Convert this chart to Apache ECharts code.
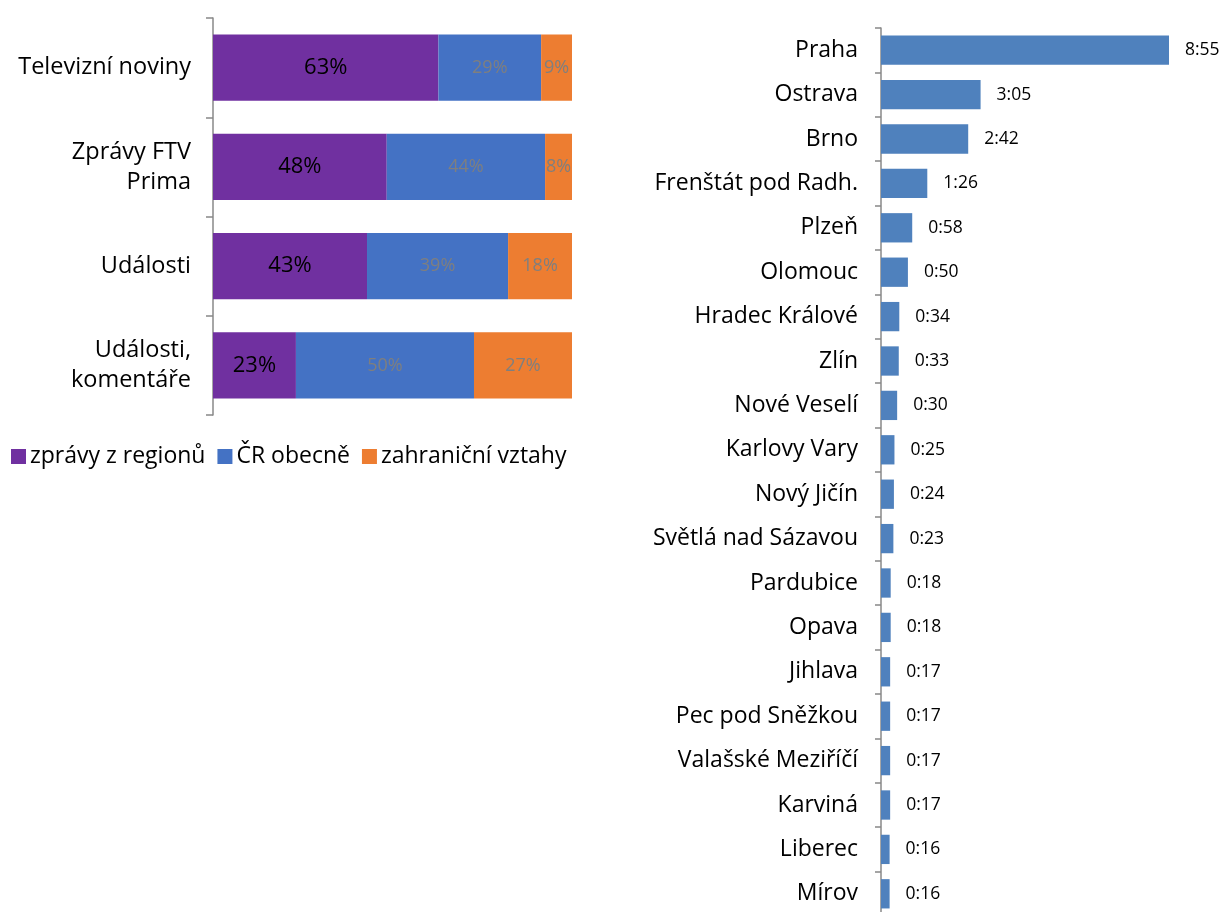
<!DOCTYPE html>
<html>
<head>
<meta charset="utf-8">
<script src="https://cdn.jsdelivr.net/npm/echarts@6/dist/echarts.min.js"></script>
<style>
html,body{margin:0;padding:0;background:#fff;}
#c{width:1224px;height:912px;}
</style>
</head>
<body>
<div id="c"></div>
<script>
// Left chart: share of news topics (percent)
const programs = ['Televizní noviny', 'Zprávy FTV\nPrima', 'Události', 'Události,\nkomentáře'];
const seriesNames = ['zprávy z regionů', 'ČR obecně', 'zahraniční vztahy'];
const regionValues = [62.8, 48.4, 42.9, 23.1];
const generalValues = [28.6, 44.1, 39.3, 49.6];
const foreignValues = [8.6, 7.5, 17.8, 27.3];

// Right chart: airtime per city (m:ss)
const cities = ['Praha', 'Ostrava', 'Brno', 'Frenštát pod Radh.', 'Plzeň', 'Olomouc', 'Hradec Králové', 'Zlín', 'Nové Veselí', 'Karlovy Vary', 'Nový Jičín', 'Světlá nad Sázavou', 'Pardubice', 'Opava', 'Jihlava', 'Pec pod Sněžkou', 'Valašské Meziříčí', 'Karviná', 'Liberec', 'Mírov'];
const cityTimes = ['8:55', '3:05', '2:42', '1:26', '0:58', '0:50', '0:34', '0:33', '0:30', '0:25', '0:24', '0:23', '0:18', '0:18', '0:17', '0:17', '0:17', '0:17', '0:16', '0:16'];

function toSec(t){ const p = t.split(':'); return (+p[0])*60 + (+p[1]); }
function toTime(s){ const m = Math.floor(s/60), r = Math.round(s%60); return m + ':' + (r<10?'0':'') + r; }

const FONT = 'Open Sans';
const chart = echarts.init(document.getElementById('c'));
const colors = ['#7030A0', '#4472C4', '#ED7D31'];
const leftVals = [regionValues, generalValues, foreignValues];

const leftSeries = leftVals.map((vals, i) => ({
  name: seriesNames[i],
  type: 'bar',
  stack: 'total',
  xAxisIndex: 0, yAxisIndex: 0,
  barWidth: '67%',
  data: vals,
  itemStyle: { color: colors[i] },
  label: {
    show: true, position: 'inside',
    formatter: p => Math.round(p.value) + '%',
    fontFamily: FONT,
    fontSize: i === 0 ? 22 : 18,
    color: i === 0 ? '#000' : '#7f7f7f'
  }
}));

const option = {
  animation: false,
  textStyle: { fontFamily: FONT },
  legend: {
    left: 6, top: 440,
    itemWidth: 15, itemHeight: 15, itemGap: 12,
    icon: 'rect',
    textStyle: { fontFamily: FONT, fontSize: 23, color: '#000', padding: [0, 0, 0, -1] },
    data: seriesNames
  },
  grid: [
    { left: 213, top: 18, width: 359, height: 397, outerBoundsMode: 'none', containLabel: false },
    { left: 881, top: 28, width: 323, height: 888, outerBoundsMode: 'none', containLabel: false }
  ],
  xAxis: [
    { gridIndex: 0, type: 'value', min: 0, max: 100, show: false },
    { gridIndex: 1, type: 'value', min: 0, max: 600, show: false }
  ],
  yAxis: [
    { gridIndex: 0, type: 'category', inverse: true, data: programs,
      axisLine: { show: true, lineStyle: { color: '#888', width: 1.5 } },
      axisTick: { show: true, length: 7, lineStyle: { color: '#888', width: 1.5 } },
      axisLabel: { fontFamily: FONT, fontSize: 23.5, color: '#000', margin: 22, lineHeight: 30 } },
    { gridIndex: 1, type: 'category', inverse: true, data: cities,
      axisLine: { show: true, lineStyle: { color: '#888', width: 1.5 } },
      axisTick: { show: true, length: 6, lineStyle: { color: '#888', width: 1.5 } },
      axisLabel: { fontFamily: FONT, fontSize: 23, color: '#000', margin: 23 } }
  ],
  series: leftSeries.concat([{
    type: 'bar',
    xAxisIndex: 1, yAxisIndex: 1,
    barWidth: '66%',
    data: cityTimes.map(toSec),
    itemStyle: { color: '#4F81BD' },
    label: { show: true, position: 'right', distance: 16, formatter: p => toTime(p.value),
      fontFamily: FONT, fontSize: 17.5, color: '#000' }
  }])
};
chart.setOption(option);
</script>
</body>
</html>
